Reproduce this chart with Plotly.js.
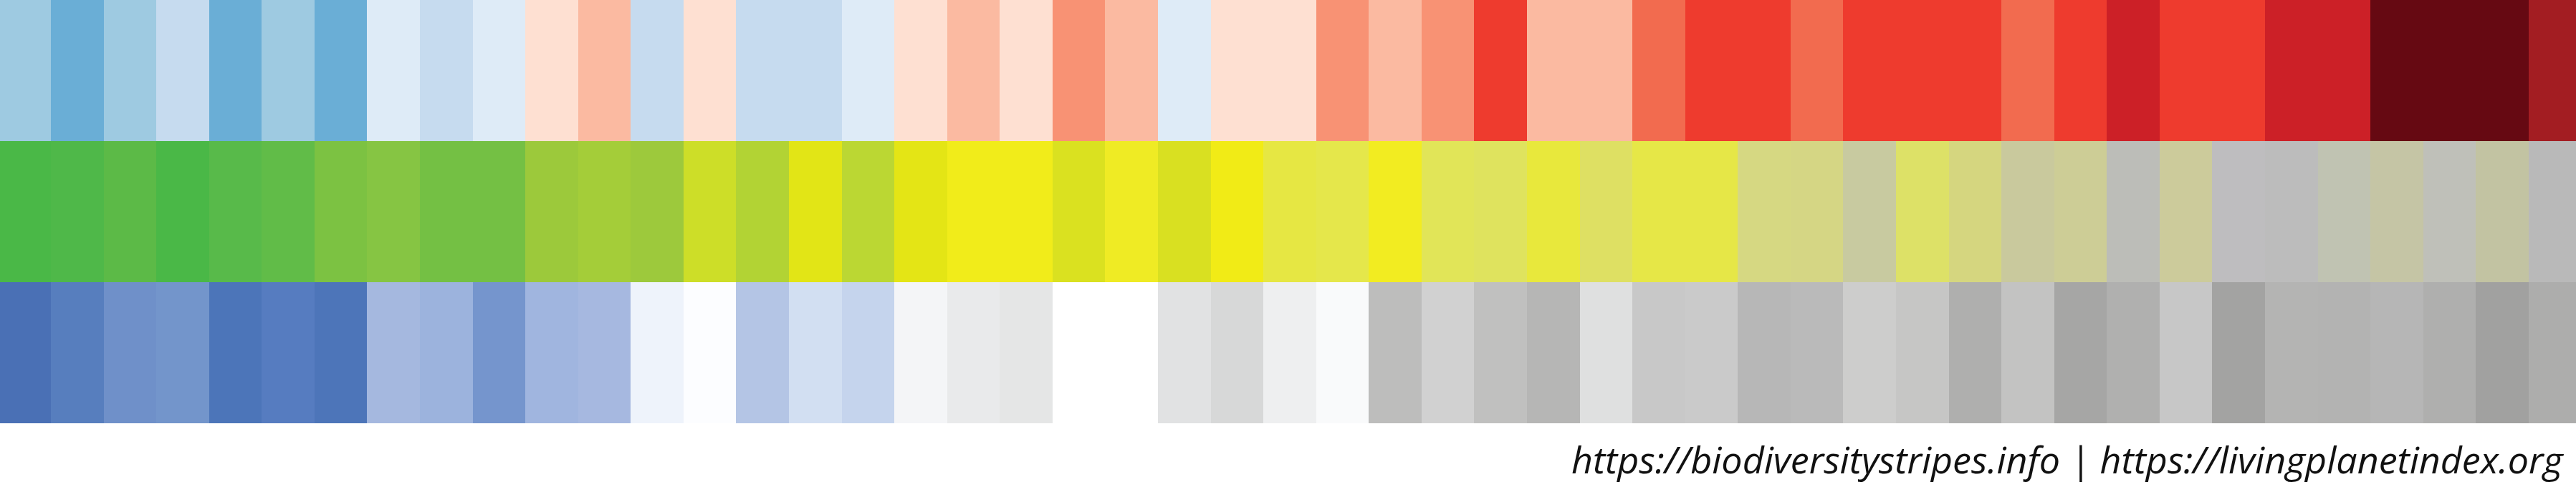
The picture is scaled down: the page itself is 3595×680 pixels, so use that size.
<!DOCTYPE html>
<html>
<head>
<meta charset="utf-8">
<script src="https://cdn.plot.ly/plotly-3.0.1.min.js"></script>
<style>
  html, body { margin: 0; padding: 0; background: #ffffff; }
  #chart { width: 3595px; height: 680px; }
</style>
</head>
<body>
<div id="chart"></div>
<script>
// Years covered by the stripes
const years = [];
for (let y = 1970; y <= 2018; y++) years.push(y);

// Top row: temperature anomaly class per year (negative = cooler, positive = warmer)
const tempLevel = [
  -3, -4, -3, -2, -4, -3, -4, -1, -2, -1,
   1,  2, -2,  1, -2, -2, -1,  1,  2,  1,
   3,  2, -1,  1,  1,  3,  2,  3,  5,  2,
   2,  4,  5,  5,  4,  5,  5,  5,  4,  5,
   6,  5,  5,  6,  6,  8,  8,  8,  7
];
// Colour for each temperature class
const tempPalette = {
  "-4": "#6aaed6", "-3": "#9ecae1", "-2": "#c6dbef", "-1": "#deebf7",
  "1": "#fee0d2", "2": "#fbbaa1", "3": "#f89274", "4": "#f26b4f",
  "5": "#ee3b2e", "6": "#cc2027", "7": "#a31d22", "8": "#660912"
};

// Middle row: Living Planet Index stripe colours per year
const lpiColors = [
  "#4ab847", "#4fb849", "#5cba47", "#4ab847", "#58ba4a", "#61bc48", "#7cc242", "#86c543", "#74c044", "#74c044",
  "#9cc93b", "#a4cd39", "#9dc93c", "#cdde28", "#b2d334", "#e2e516", "#bbd733", "#e4e515", "#f1ec1a", "#f1ec1a",
  "#dae120", "#efeb24", "#d9e021", "#f1eb16", "#e6e743", "#e5e74b", "#f2ec21", "#e1e558", "#dfe35e", "#e8e83c",
  "#dee063", "#e6e747", "#e6e747", "#d6d882", "#d5d684", "#c8caa0", "#dde167", "#d5d67f", "#c9c99d", "#cdcd96",
  "#bcbdb8", "#cccb9b", "#bebdbf", "#bcbcbc", "#c0c3b2", "#c5c5a5", "#bfc0b9", "#c2c3a2", "#b9b9b9"
];

// Bottom row: second index stripe colours per year
const bottomColors = [
  "#4a70b5", "#577ebe", "#6f90c9", "#7395cb", "#4c75b9", "#567cc0", "#4d75b9", "#a5b8df", "#9cb3dd", "#7595cd",
  "#a0b5df", "#a6b8e0", "#eef3fb", "#fcfdff", "#b4c5e5", "#d2dff2", "#c5d4ed", "#f4f5f7", "#e9eaeb", "#e5e6e6",
  "#ffffff", "#ffffff", "#e1e2e3", "#d7d8d8", "#eeeff0", "#f9fafb", "#bdbdbc", "#d1d1d1", "#c0c0bf", "#b6b6b5",
  "#dfe0e0", "#c8c8c8", "#cacaca", "#b7b7b7", "#bababa", "#cdcdcc", "#c6c6c5", "#afafae", "#c3c3c2", "#a6a6a5",
  "#b0b0af", "#c7c7c7", "#a3a3a2", "#b4b4b3", "#b3b3b2", "#b6b6b6", "#afafae", "#a1a1a0", "#adadac"
];

const sourceText = "https://biodiversitystripes.info | https://livingplanetindex.org";

const ones = years.map(() => 1);
const tempColors = tempLevel.map(l => tempPalette[String(l)]);

function row(colors, name) {
  return {
    type: "bar",
    name: name,
    x: years,
    y: ones,
    width: 1,
    marker: { color: colors, line: { width: 0 } },
    hoverinfo: "skip",
    showlegend: false
  };
}

const data = [
  row(bottomColors, "bottom"),
  row(lpiColors, "lpi"),
  row(tempColors, "temperature")
];

const layout = {
  width: 3595,
  height: 680,
  margin: { l: 0, r: 0, t: 0, b: 89, pad: 0 },
  paper_bgcolor: "#ffffff",
  plot_bgcolor: "#ffffff",
  barmode: "stack",
  bargap: 0,
  showlegend: false,
  xaxis: {
    range: [1969.535, 2018.40],
    visible: false,
    fixedrange: true
  },
  yaxis: {
    range: [0, 3],
    visible: false,
    fixedrange: true
  },
  annotations: [{
    text: sourceText,
    xref: "paper", yref: "paper",
    x: 0.996, y: -0.083,
    xanchor: "right", yanchor: "middle",
    showarrow: false,
    font: { family: "Open Sans", size: 52, color: "#111111", style: "italic" }
  }]
};

Plotly.newPlot("chart", data, layout, { staticPlot: true, displayModeBar: false });
</script>
</body>
</html>
